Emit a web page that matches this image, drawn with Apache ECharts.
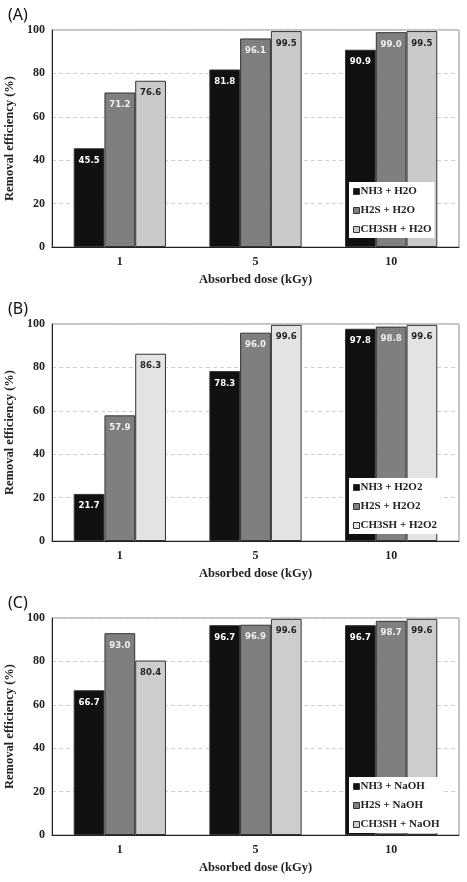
<!DOCTYPE html>
<html>
<head>
<meta charset="UTF-8">
<title></title>
<script src="https://cdn.jsdelivr.net/npm/echarts@6/dist/echarts.min.js"></script>
<style>
html,body{margin:0;padding:0;background:#fff;}
#chart{width:467px;height:882px;}
</style>
</head>
<body>
<div id="chart"></div>
<script type="text/javascript">
// data
var doses = ['1', '5', '10'];
var panelTags = ['(A)', '(B)', '(C)'];
var absorbents = ['H2O', 'H2O2', 'NaOH'];
var gases = ['NH3', 'H2S', 'CH3SH'];

var nh3A = [45.5, 81.8, 90.9];
var h2sA = [71.2, 96.1, 99.0];
var ch3shA = [76.6, 99.5, 99.5];

var nh3B = [21.7, 78.3, 97.8];
var h2sB = [57.9, 96.0, 98.8];
var ch3shB = [86.3, 99.6, 99.6];

var nh3C = [66.7, 96.7, 96.7];
var h2sC = [93.0, 96.9, 98.7];
var ch3shC = [80.4, 99.6, 99.6];

var yTicks = [0, 20, 40, 60, 80, 100];

var values = [
    [nh3A, h2sA, ch3shA],
    [nh3B, h2sB, ch3shB],
    [nh3C, h2sC, ch3shC]
];

// layout of the three panels
var plotTops = [30, 324, 618];
var plotH = 217;
var legendTops = [182, 478, 777];
var barColors = [
    ['#111111', '#7f7f7f', '#cacaca'],
    ['#111111', '#7f7f7f', '#e3e3e3'],
    ['#111111', '#7f7f7f', '#cdcdcd']
];
var labelColors = ['#ffffff', '#f0f0f0', '#222222'];
var serif = '"Liberation Serif", "DejaVu Serif", serif';

var chart = echarts.init(document.getElementById('chart'), null, {renderer: 'canvas'});

var grids = [], xAxes = [], yAxes = [], series = [], legends = [], titles = [];

for (var p = 0; p < 3; p++) {
    grids.push({
        left: 52, width: 407, top: plotTops[p], height: plotH,
        outerBoundsMode: 'none', containLabel: false,
        show: true, borderColor: '#8a8a8a', borderWidth: 1, backgroundColor: '#fff'
    });
    xAxes.push({
        type: 'category', gridIndex: p, data: doses,
        axisLine: {lineStyle: {color: '#222', width: 1}},
        axisTick: {show: false},
        axisLabel: {fontFamily: serif, fontWeight: 'bold', fontSize: 12, color: '#222', margin: 9},
        name: 'Absorbed dose (kGy)', nameLocation: 'middle', nameGap: 26,
        nameTextStyle: {fontFamily: serif, fontWeight: 'bold', fontSize: 12.5, color: '#222'}
    });
    yAxes.push({
        type: 'value', gridIndex: p, min: yTicks[0], max: yTicks[yTicks.length - 1], interval: 20,
        axisLine: {show: true, lineStyle: {color: '#222', width: 1}},
        axisTick: {show: false},
        splitLine: {lineStyle: {color: '#d0d0d0', type: [4, 3]}},
        axisLabel: {fontFamily: serif, fontWeight: 'bold', fontSize: 12, color: '#222', margin: 7},
        name: 'Removal efficiency (%)', nameLocation: 'middle', nameGap: 32,
        nameTextStyle: {fontFamily: serif, fontWeight: 'bold', fontSize: 12.5, color: '#222'}
    });
    var names = [];
    for (var g = 0; g < 3; g++) {
        var nm = gases[g] + ' + ' + absorbents[p];
        names.push(nm);
        series.push({
            type: 'bar', name: nm, xAxisIndex: p, yAxisIndex: p,
            data: values[p][g],
            barGap: '0%', barCategoryGap: '32%',
            itemStyle: {color: barColors[p][g], borderColor: '#333', borderWidth: 1},
            label: {
                show: true, position: 'insideTop', distance: 7,
                formatter: function (d) { return d.value.toFixed(1); },
                fontFamily: '"DejaVu Sans Condensed", "DejaVu Sans", sans-serif', fontWeight: 'bold', fontSize: 9.5,
                color: labelColors[g]
            }
        });
    }
    legends.push({
        data: names, orient: 'vertical', left: 349, top: legendTops[p],
        backgroundColor: '#fff', padding: [4, 3, 3, 4],
        itemWidth: 6, itemHeight: 6, itemGap: 8, selectedMode: false,
        icon: 'rect',
        itemStyle: {borderColor: '#333', borderWidth: 1},
        textStyle: {fontFamily: serif, fontWeight: 'bold', fontSize: 11, color: '#222', padding: [0, 0, 0, -4]}
    });
    titles.push({
        text: panelTags[p], left: 3, top: plotTops[p] - 28,
        textStyle: {fontFamily: '"Noto Sans", sans-serif', fontWeight: 'normal', fontSize: 16, color: '#111'}
    });
}

chart.setOption({
    animation: false,
    backgroundColor: '#fff',
    title: titles,
    legend: legends,
    grid: grids,
    xAxis: xAxes,
    yAxis: yAxes,
    series: series
});
</script>
</body>
</html>
